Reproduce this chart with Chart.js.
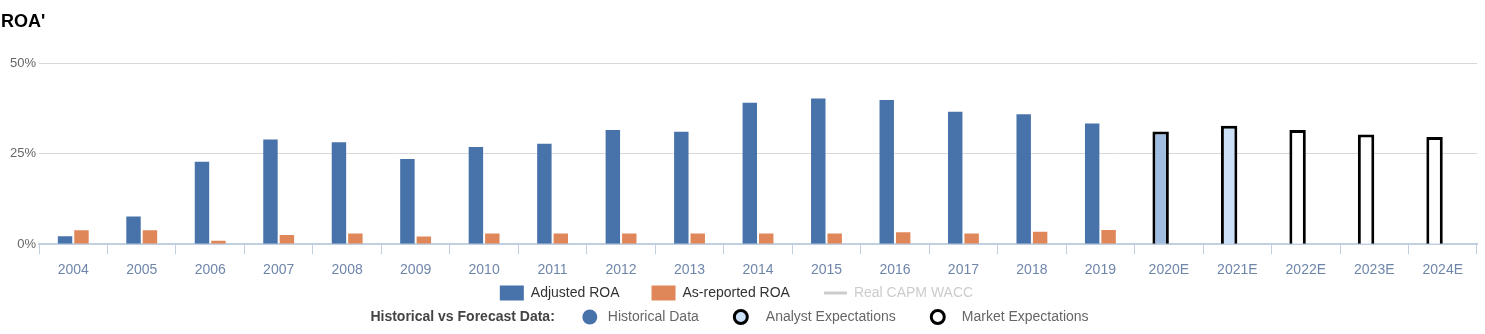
<!DOCTYPE html>
<html>
<head>
<meta charset="utf-8">
<script src="https://cdn.jsdelivr.net/npm/chart.js@4/dist/chart.umd.min.js"></script>
<style>
  html, body { margin: 0; padding: 0; background: #fff; }
  #wrap { width: 1485px; height: 334px; position: relative; }
</style>
</head>
<body>
<div id="wrap"><canvas id="roaChart"></canvas></div>
<script>
const categories = ['2004', '2005', '2006', '2007', '2008', '2009', '2010', '2011', '2012', '2013',
  '2014', '2015', '2016', '2017', '2018', '2019', '2020E', '2021E', '2022E', '2023E', '2024E'];

// Adjusted ROA in %, history then forecast years
const adjustedRoa = [2.5, 7.9, 23.0, 29.2, 28.4, 23.8, 27.1, 28.0, 31.8, 31.3,
  39.3, 40.5, 40.1, 36.8, 36.1, 33.6, 31.1, 32.7, 31.5, 30.3, 29.6];

// As-reported ROA in %, no forecast
const reportedRoa = [4.1, 4.1, 1.2, 2.8, 3.2, 2.4, 3.2, 3.2, 3.2, 3.2,
  3.2, 3.2, 3.6, 3.2, 3.7, 4.2, null, null, null, null, null];

// where each year's number comes from
const dataSource = ['hist', 'hist', 'hist', 'hist', 'hist', 'hist', 'hist', 'hist', 'hist', 'hist',
  'hist', 'hist', 'hist', 'hist', 'hist', 'hist', 'current', 'analyst', 'market', 'market', 'market'];

const yTicks = [0, 25, 50];

const FONT = "'Liberation Sans', Arial, sans-serif";
const BLUE = '#4872aa';
const ORANGE = '#e0875a';

const fillFor = {hist: BLUE, current: '#a0bce0', analyst: '#cce0f8', market: '#ffffff'};

Chart.defaults.font.family = FONT;

// title + the two legend rows are drawn by hand
const decorations = {
  id: 'decorations',
  afterDraw(chart) {
    const ctx = chart.ctx;
    const mid = chart.width / 2;
    ctx.save();

    ctx.fillStyle = '#000';
    ctx.font = `bold 18px ${FONT}`;
    ctx.textBaseline = 'alphabetic';
    ctx.textAlign = 'left';
    ctx.fillText("ROA'", 1, 27);

    // row 1: series legend
    ctx.font = `14px ${FONT}`;
    ctx.textBaseline = 'middle';
    const row1 = [
      {kind: 'box', color: BLUE, text: 'Adjusted ROA', textColor: '#333'},
      {kind: 'box', color: ORANGE, text: 'As-reported ROA', textColor: '#333'},
      {kind: 'line', color: '#cccccc', text: 'Real CAPM WACC', textColor: '#cccccc'}
    ];
    const y1 = 293;
    let total = 0;
    row1.forEach((it, i) => {
      it.sw = it.kind === 'box' ? 24 : 23;
      it.gap = 7;
      it.lead = i === 0 ? 0 : (it.kind === 'box' ? 32 : 34);
      it.tw = ctx.measureText(it.text).width;
      total += it.lead + it.sw + it.gap + it.tw;
    });
    let x = mid - 6 - total / 2;
    row1.forEach(it => {
      x += it.lead;
      ctx.fillStyle = it.color;
      if (it.kind === 'box') {
        ctx.fillRect(x, y1 - 7.5, it.sw, 15);
      } else {
        ctx.fillRect(x, y1 - 1.5, it.sw, 3);
      }
      x += it.sw + it.gap;
      ctx.fillStyle = it.textColor;
      ctx.fillText(it.text, x, y1);
      x += it.tw;
    });

    // row 2: historical vs forecast markers
    const y2 = 317;
    const head = 'Historical vs Forecast Data:';
    ctx.font = `bold 14px ${FONT}`;
    const headW = ctx.measureText(head).width;
    ctx.font = `14px ${FONT}`;
    const row2 = [
      {fill: BLUE, stroke: null, text: 'Historical Data', lead: 35, after: 18},
      {fill: '#cce0f8', stroke: '#000', text: 'Analyst Expectations', lead: 42, after: 25},
      {fill: '#ffffff', stroke: '#000', text: 'Market Expectations', lead: 42, after: 24}
    ];
    let total2 = headW;
    row2.forEach(it => {
      it.tw = ctx.measureText(it.text).width;
      total2 += it.lead + it.after + it.tw;
    });
    x = mid - 13 - total2 / 2;
    ctx.font = `bold 14px ${FONT}`;
    ctx.fillStyle = '#444';
    ctx.fillText(head, x, y2);
    x += headW;
    ctx.font = `14px ${FONT}`;
    row2.forEach(it => {
      x += it.lead;
      ctx.beginPath();
      ctx.arc(x, y2, it.stroke ? 6.5 : 7.5, 0, Math.PI * 2);
      ctx.fillStyle = it.fill;
      ctx.fill();
      if (it.stroke) {
        ctx.lineWidth = 3;
        ctx.strokeStyle = it.stroke;
        ctx.stroke();
      }
      x += it.after;
      ctx.fillStyle = '#666';
      ctx.fillText(it.text, x, y2);
      x += it.tw;
    });

    ctx.restore();
  }
};

new Chart(document.getElementById('roaChart'), {
  type: 'bar',
  data: {
    labels: categories,
    datasets: [
      {
        label: 'Adjusted ROA',
        data: adjustedRoa,
        backgroundColor: dataSource.map(s => fillFor[s]),
        borderColor: dataSource.map(s => s === 'hist' ? 'rgba(255,255,255,0.2)' : '#000'),
        borderWidth: dataSource.map(s => s === 'hist' ? 1 : 3)
      },
      {
        label: 'As-reported ROA',
        data: reportedRoa,
        backgroundColor: ORANGE,
        borderColor: 'rgba(255,255,255,0.2)',
        borderWidth: 1
      }
    ]
  },
  options: {
    responsive: true,
    maintainAspectRatio: false,
    animation: false,
    categoryPercentage: 0.48,
    barPercentage: 1,
    layout: {padding: {top: 63, right: 8, bottom: 47, left: 7}},
    plugins: {
      legend: {display: false},
      tooltip: {enabled: false}
    },
    scales: {
      x: {
        grid: {
          drawOnChartArea: false,
          drawTicks: true,
          tickLength: 10,
          color: '#c0d0e0'
        },
        border: {display: true, color: '#c0d0e0', width: 2},
        ticks: {color: '#6f86ab', font: {size: 14}, padding: 8, maxRotation: 0, autoSkip: false}
      },
      y: {
        min: 0,
        max: 50,
        afterBuildTicks: axis => { axis.ticks = yTicks.map(v => ({value: v})); },
        grid: {color: '#d8d8d8', drawTicks: false},
        border: {display: false},
        ticks: {
          color: '#666',
          font: {size: 13},
          padding: 3,
          callback: v => v + '%'
        }
      }
    }
  },
  plugins: [decorations]
});
</script>
</body>
</html>
